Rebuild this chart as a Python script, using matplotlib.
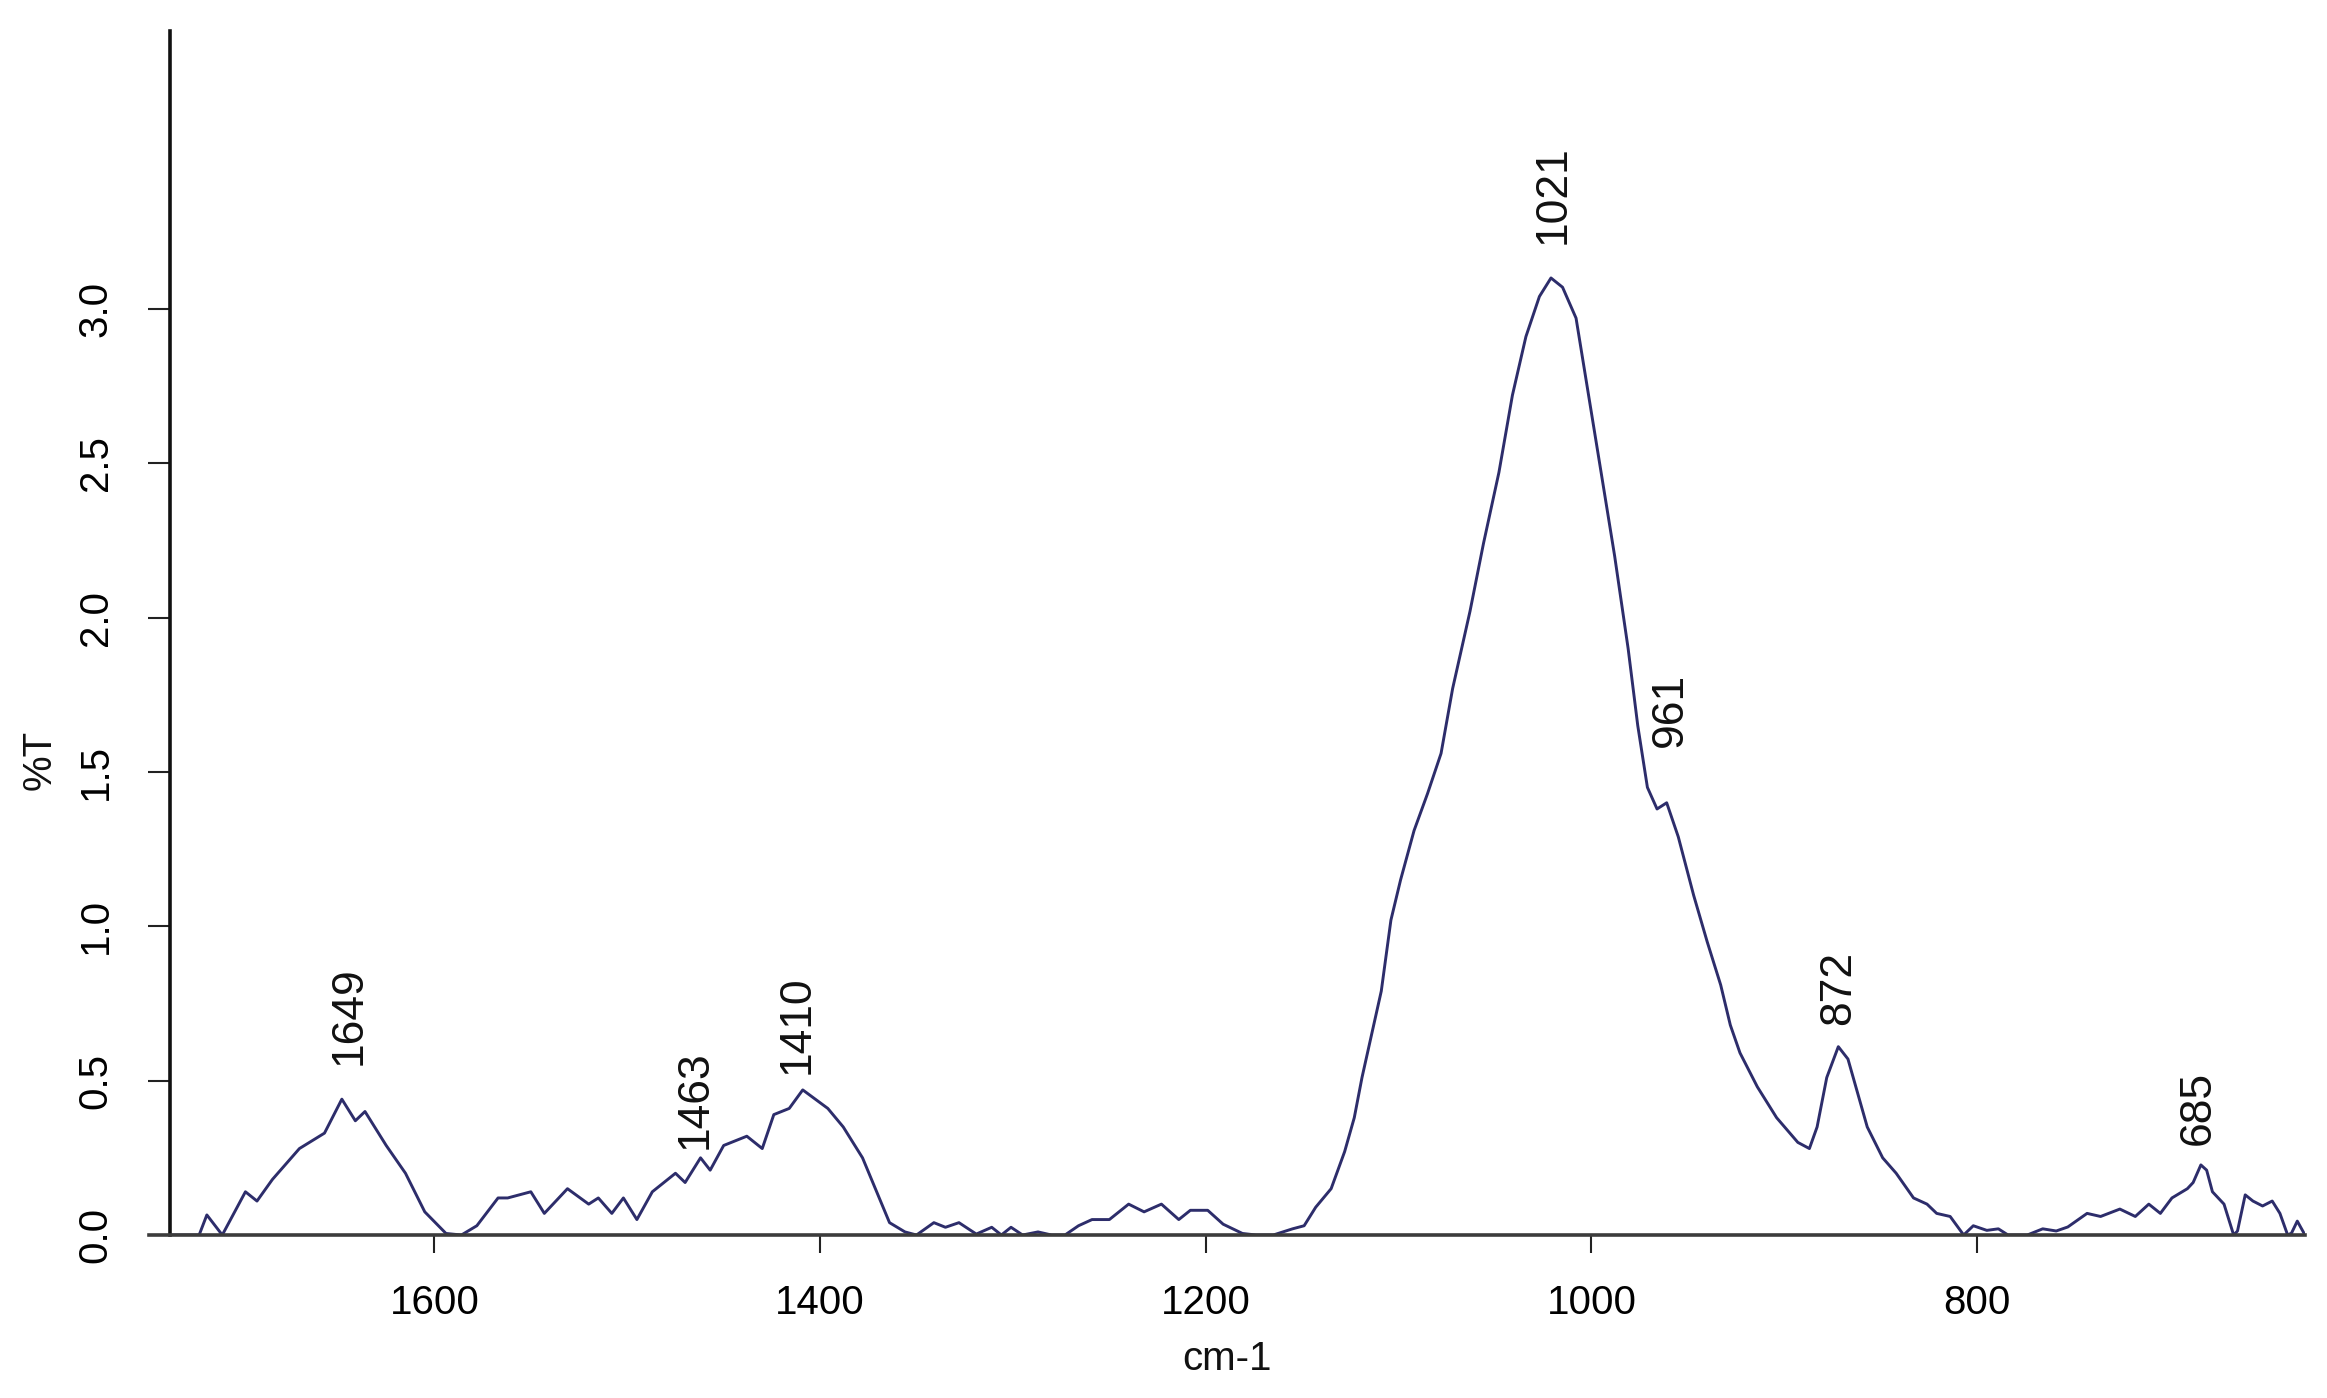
import matplotlib
matplotlib.use("Agg")
import matplotlib.pyplot as plt

plt.rcParams['font.family'] = ['Liberation Sans', 'DejaVu Sans']

# Spectrum (wavenumber cm-1, %T)
wavenumber = [1736, 1730, 1722, 1718, 1710, 1698, 1692, 1684, 1670, 1657,
              1648, 1641, 1636, 1625, 1615, 1605, 1594, 1586, 1578, 1567,
              1562, 1550, 1543, 1531, 1520, 1515, 1508, 1502, 1495, 1487,
              1475, 1470, 1462, 1457, 1450, 1438, 1430, 1424, 1416, 1409,
              1396, 1388, 1378, 1364, 1356, 1350, 1341, 1335, 1328, 1319,
              1311, 1306, 1301, 1295, 1287, 1280, 1273, 1266, 1259, 1250,
              1240, 1232, 1223, 1214, 1208, 1199, 1191, 1181, 1174, 1165,
              1155, 1149, 1143, 1135, 1128, 1123, 1119, 1114, 1109, 1104,
              1099, 1092, 1085, 1078, 1072, 1063, 1056, 1048, 1041, 1034,
              1027, 1021, 1015, 1008, 1002, 995, 988, 981, 976, 971,
              966, 961, 955, 947, 940, 933, 928, 923, 914, 904,
              893, 887, 883, 878, 872, 867, 862, 857, 849, 842,
              833, 826, 821, 814, 807, 802, 795, 789, 784, 774,
              766, 759, 753, 743, 736, 726, 718, 711, 705, 699,
              691, 688, 684, 681, 678, 672, 667, 665, 661, 657,
              652, 647, 643, 639, 637, 634, 630]
transmittance = [0.0, 0.0, 0.0, 0.065, 0.0, 0.14, 0.11, 0.18, 0.28, 0.33,
                 0.44, 0.37, 0.40, 0.29, 0.20, 0.075, 0.005, 0.0, 0.03, 0.12,
                 0.12, 0.14, 0.07, 0.15, 0.10, 0.12, 0.07, 0.12, 0.05, 0.14,
                 0.20, 0.17, 0.25, 0.21, 0.29, 0.32, 0.28, 0.39, 0.41, 0.47,
                 0.41, 0.35, 0.25, 0.04, 0.01, 0.0, 0.04, 0.025, 0.04, 0.003,
                 0.025, 0.0, 0.025, 0.0, 0.01, 0.0, 0.0, 0.03, 0.05, 0.05,
                 0.10, 0.075, 0.10, 0.05, 0.08, 0.08, 0.035, 0.005, 0.0, 0.0,
                 0.02, 0.03, 0.09, 0.15, 0.27, 0.38, 0.51, 0.65, 0.79, 1.02,
                 1.15, 1.31, 1.43, 1.56, 1.77, 2.02, 2.24, 2.47, 2.72, 2.91,
                 3.04, 3.10, 3.07, 2.97, 2.74, 2.47, 2.20, 1.90, 1.65, 1.45,
                 1.38, 1.40, 1.29, 1.10, 0.95, 0.81, 0.68, 0.59, 0.48, 0.38,
                 0.30, 0.28, 0.35, 0.51, 0.61, 0.57, 0.46, 0.35, 0.25, 0.20,
                 0.12, 0.10, 0.07, 0.06, 0.0, 0.03, 0.015, 0.02, 0.0, 0.0,
                 0.02, 0.013, 0.026, 0.07, 0.06, 0.084, 0.06, 0.10, 0.07, 0.12,
                 0.15, 0.17, 0.227, 0.21, 0.14, 0.10, 0.0, 0.013, 0.13, 0.11,
                 0.094, 0.11, 0.07, 0.0, 0.006, 0.045, 0.0]

# Peak annotations
peak_labels = ["1649", "1463", "1410", "1021", "961", "872", "685"]
peak_label_x = [1644, 1465, 1412, 1020, 959, 872, 685.5]
peak_label_y = [0.55, 0.28, 0.52, 3.21, 1.58, 0.68, 0.29]

x_ticks = [1600, 1400, 1200, 1000, 800]
y_ticks = [0.0, 0.5, 1.0, 1.5, 2.0, 2.5, 3.0]
y_tick_labels = ["0.0", "0.5", "1.0", "1.5", "2.0", "2.5", "3.0"]

W, H = 2327, 1398
fig = plt.figure(figsize=(W / 100, H / 100), dpi=100)
ax = fig.add_axes([149 / W, 1 - 1235 / H, (2305 - 149) / W, (1235 - 31) / H])

ax.plot(wavenumber, transmittance, color='#2d2d6b', lw=2.1, solid_joinstyle='round')

ax.set_xlim(1748, 630)
ax.set_ylim(0, 3.9)

for s in ['top', 'right']:
    ax.spines[s].set_visible(False)
ax.spines['left'].set_position(('data', 1737))
ax.spines['left'].set_linewidth(2.6)
ax.spines['left'].set_color('#111111')
ax.spines['bottom'].set_linewidth(2.6)
ax.spines['bottom'].set_color('#3c3c3c')

ax.set_xticks(x_ticks)
ax.set_xticklabels([str(t) for t in x_ticks])
ax.set_yticks(y_ticks)
ax.set_yticklabels(y_tick_labels, rotation=90, va='center')

ax.tick_params(axis='x', length=13, width=1.5, color='#222222', pad=22, labelsize=29)
ax.tick_params(axis='y', length=16, width=1.5, color='#222222', pad=24, labelsize=29)

for lbl, x, y in zip(peak_labels, peak_label_x, peak_label_y):
    ax.text(x, y, lbl, rotation=90, ha='center', va='bottom', fontsize=32, color='#111111')

fig.text(1227 / W, 1 - 1359 / H, "cm-1", ha='center', va='center', fontsize=29, color='#111111')
fig.text(40 / W, 1 - 760 / H, "%T", ha='center', va='center', rotation=90, fontsize=29, color='#111111')

fig.savefig("out.png", dpi=100, facecolor='white')
